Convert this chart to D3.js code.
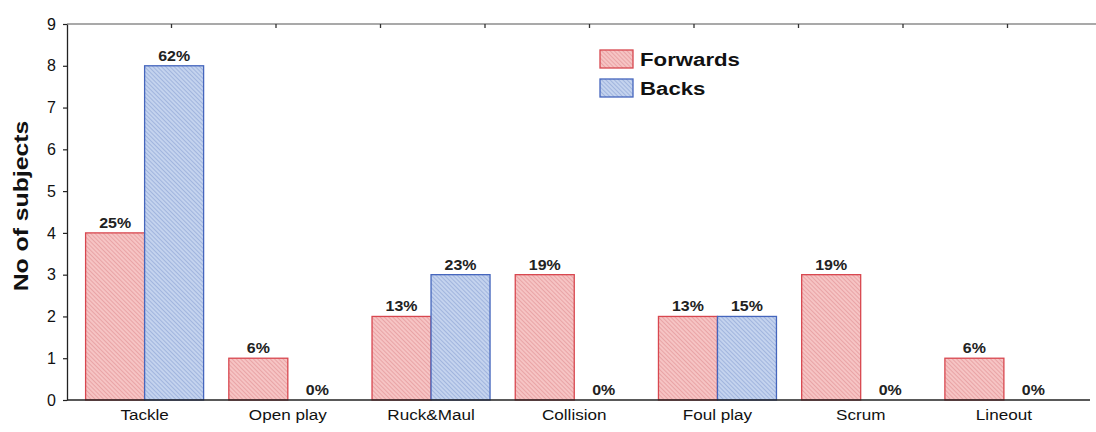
<!DOCTYPE html>
<html>
<head>
<meta charset="utf-8">
<script src="https://cdn.jsdelivr.net/npm/d3@7"></script>
<style>
  html, body { margin: 0; padding: 0; background: #fff; }
  svg { display: block; font-family: Arial, "Liberation Sans", sans-serif; }
</style>
</head>
<body>
<svg id="chart" width="1096" height="432"></svg>
<script>
// Injury mechanism counts by playing position
const categories = ["Tackle", "Open play", "Ruck&Maul", "Collision", "Foul play", "Scrum", "Lineout"];
const forwards = [4, 1, 2, 3, 2, 3, 1];
const backs = [8, 0, 3, 0, 2, 0, 0];
const forwardsPct = ["25%", "6%", "13%", "19%", "13%", "19%", "6%"];
const backsPct = ["62%", "0%", "23%", "0%", "15%", "0%", "0%"];
const seriesNames = ["Forwards", "Backs"];
const yTicks = [0, 1, 2, 3, 4, 5, 6, 7, 8, 9];

const svg = d3.select("#chart");
const margin = { left: 67, top: 24, right: 0, bottom: 32 };
const W = 1096, H = 432;
const plotBottom = H - margin.bottom;
const wide = "scale(1.14,1)"; // text set slightly wide

const x = d3.scaleBand().domain(categories).range([73, 1075.5]).paddingInner(0.176).paddingOuter(0.088);
const xs = d3.scaleBand().domain(seriesNames).range([0, x.bandwidth()]).padding(0);
const y = d3.scaleLinear().domain([0, 9]).range([plotBottom, margin.top]);

// Hatch patterns for the two series
const defs = svg.append("defs");
function hatch(id, bg, line) {
  const p = defs.append("pattern").attr("id", id).attr("patternUnits", "userSpaceOnUse")
    .attr("width", 3).attr("height", 3).attr("patternTransform", "rotate(-45)");
  p.append("rect").attr("width", 3).attr("height", 3).attr("fill", bg);
  p.append("line").attr("x1", 0).attr("y1", 0).attr("x2", 0).attr("y2", 3)
    .attr("stroke", line).attr("stroke-width", 1);
}
hatch("hatchF", "#f6c4c4", "#dc8489");
hatch("hatchB", "#c4d3ee", "#7f98cf");

const styles = {
  Forwards: { fill: "url(#hatchF)", stroke: "#d8474f" },
  Backs: { fill: "url(#hatchB)", stroke: "#4566bd" }
};

// Frame: top border with small inward ticks
svg.append("line").attr("x1", margin.left).attr("x2", W).attr("y1", margin.top).attr("y2", margin.top)
  .attr("stroke", "#555").attr("stroke-width", 1.2);
const topTicks = d3.range(1, 10).map(i => margin.left + i * 104.5);
svg.append("g").selectAll("line").data(topTicks).join("line")
  .attr("x1", d => d).attr("x2", d => d).attr("y1", margin.top).attr("y2", margin.top + 4)
  .attr("stroke", "#333").attr("stroke-width", 1.3);

// Y axis
const yAxis = svg.append("g").attr("transform", `translate(${margin.left},0)`)
  .call(d3.axisLeft(y).tickValues(yTicks).tickSize(4).tickSizeOuter(0).tickFormat(d3.format("d")));
yAxis.select(".domain").attr("stroke", "#222").attr("stroke-width", 1.3);
yAxis.selectAll(".tick line").attr("stroke", "#222").attr("stroke-width", 1.2);
yAxis.selectAll(".tick text").attr("font-size", 16).attr("fill", "#111").attr("x", -11);

svg.append("text")
  .attr("transform", `translate(28,206) rotate(-90) scale(1.18,1)`)
  .attr("text-anchor", "middle").attr("font-size", 21).attr("font-weight", "bold").attr("fill", "#111")
  .text("No of subjects");

// Bars
const rows = categories.map((c, i) => ({ c, vals: [
  { s: "Forwards", v: forwards[i], pct: forwardsPct[i] },
  { s: "Backs", v: backs[i], pct: backsPct[i] }
]}));

const groups = svg.append("g").selectAll("g").data(rows).join("g")
  .attr("transform", d => `translate(${x(d.c)},0)`);

groups.selectAll("rect").data(d => d.vals.filter(v => v.v > 0)).join("rect")
  .attr("x", d => xs(d.s)).attr("width", xs.bandwidth())
  .attr("y", d => y(d.v)).attr("height", d => y(0) - y(d.v))
  .attr("fill", d => styles[d.s].fill).attr("stroke", d => styles[d.s].stroke).attr("stroke-width", 1.3);

groups.selectAll("text").data(d => d.vals).join("text")
  .attr("transform", d => `translate(${xs(d.s) + xs.bandwidth() / 2},${y(d.v) - 5}) ${wide}`)
  .attr("text-anchor", "middle").attr("font-size", 14).attr("font-weight", "bold").attr("fill", "#222")
  .text(d => d.pct);

// X axis baseline and category labels
svg.append("line").attr("x1", margin.left).attr("x2", 1090).attr("y1", y(0)).attr("y2", y(0))
  .attr("stroke", "#222").attr("stroke-width", 1.4);
const xAxis = svg.append("g").attr("transform", `translate(0,${y(0)})`)
  .call(d3.axisBottom(x).tickSize(0).tickPadding(10));
xAxis.select(".domain").remove();
xAxis.selectAll(".tick text").attr("font-size", 15).attr("fill", "#111")
  .attr("dy", "0.71em").attr("y", 9).attr("transform", wide);

// Legend
const legend = svg.append("g").attr("transform", "translate(600,50)");
seriesNames.forEach((s, i) => {
  const g = legend.append("g").attr("transform", `translate(0,${i * 29})`);
  g.append("rect").attr("width", 33).attr("height", 18)
    .attr("fill", styles[s].fill).attr("stroke", styles[s].stroke).attr("stroke-width", 1.3);
  g.append("text").attr("transform", `translate(40,16) scale(1.17,1)`)
    .attr("font-size", 19).attr("font-weight", "bold").attr("fill", "#111").text(s);
});
</script>
</body>
</html>
